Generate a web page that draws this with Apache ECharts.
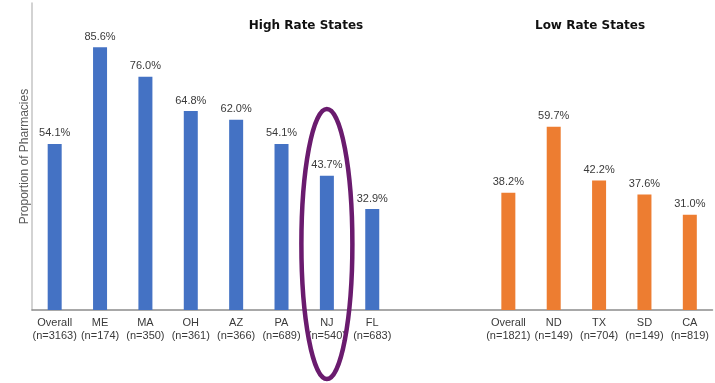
<!DOCTYPE html>
<html>
<head>
<meta charset="utf-8">
<script src="https://cdn.jsdelivr.net/npm/echarts@6/dist/echarts.min.js"></script>
<style>
html,body{margin:0;padding:0;background:#fff;}
#c{width:715px;height:383px;}
</style>
</head>
<body>
<div id="c"></div>
<script>
// ---- data ----
const highStates = ['Overall', 'ME', 'MA', 'OH', 'AZ', 'PA', 'NJ', 'FL'];
const highN = [3163, 174, 350, 361, 366, 689, 540, 683];
const highValues = [54.1, 85.6, 76.0, 64.8, 62.0, 54.1, 43.7, 32.9];
const lowStates = ['Overall', 'ND', 'TX', 'SD', 'CA'];
const lowN = [1821, 149, 704, 149, 819];
const lowValues = [38.2, 59.7, 42.2, 37.6, 31.0];
const gapSlots = 2;
const highlightState = 'NJ';

// ---- build ----
const cats = [];
const highData = [];
const lowData = [];
highStates.forEach((s, i) => { cats.push(s + '\n(n=' + highN[i] + ')'); highData.push(highValues[i]); lowData.push('-'); });
for (let i = 0; i < gapSlots; i++) { cats.push(''); highData.push('-'); lowData.push('-'); }
lowStates.forEach((s, i) => { cats.push(s + '\n(n=' + lowN[i] + ')'); highData.push('-'); lowData.push(lowValues[i]); });

const chart = echarts.init(document.getElementById('c'));
const labelCfg = {
  show: true, position: 'top', distance: 5,
  fontFamily: 'Liberation Sans, Arial, sans-serif', fontSize: 11, color: '#3a3a3a',
  formatter: p => p.value.toFixed(1) + '%'
};
chart.setOption({
  animation: false,
  title: [
    { text: 'High Rate States', left: 301, top: 15, textAlign: 'center',
      textStyle: { fontFamily: 'DejaVu Sans', fontWeight: 'bold', fontSize: 12, color: '#111' } },
    { text: 'Low Rate States', left: 585, top: 15, textAlign: 'center',
      textStyle: { fontFamily: 'DejaVu Sans', fontWeight: 'bold', fontSize: 12, color: '#111' } }
  ],
  grid: { left: 32, right: 2.5, top: 3, bottom: 73 },
  xAxis: {
    type: 'category', data: cats,
    axisLine: { lineStyle: { color: '#8c8c8c', width: 1.5 } },
    axisTick: { show: false },
    axisLabel: { interval: 0, margin: 6, lineHeight: 13,
      fontFamily: 'Liberation Sans, Arial, sans-serif', fontSize: 11, color: '#3a3a3a' }
  },
  yAxis: {
    type: 'value', min: 0, max: 100,
    name: 'Proportion of Pharmacies', nameLocation: 'middle', nameGap: 1,
    nameTextStyle: { fontFamily: 'Liberation Sans, Arial, sans-serif', fontSize: 12, color: '#595959' },
    axisLine: { show: true, lineStyle: { color: '#c4c4c4', width: 1.5 } },
    axisTick: { show: false }, axisLabel: { show: false }, splitLine: { show: false }
  },
  series: [
    { name: 'High Rate States', type: 'bar', data: highData, barWidth: 14, barGap: '-100%',
      itemStyle: { color: '#4472C4' }, label: labelCfg },
    { name: 'Low Rate States', type: 'bar', data: lowData, barWidth: 14, barGap: '-100%',
      itemStyle: { color: '#ED7D31' }, label: labelCfg }
  ]
});

const idx = highStates.indexOf(highlightState);
const cx = chart.convertToPixel({ xAxisIndex: 0 }, idx);
chart.setOption({
  graphic: [{
    type: 'ellipse', shape: { cx: cx, cy: 244, rx: 25.5, ry: 135 },
    style: { fill: 'none', stroke: '#6A1B6E', lineWidth: 4.5 }, z: 100
  }]
});
</script>
</body>
</html>
